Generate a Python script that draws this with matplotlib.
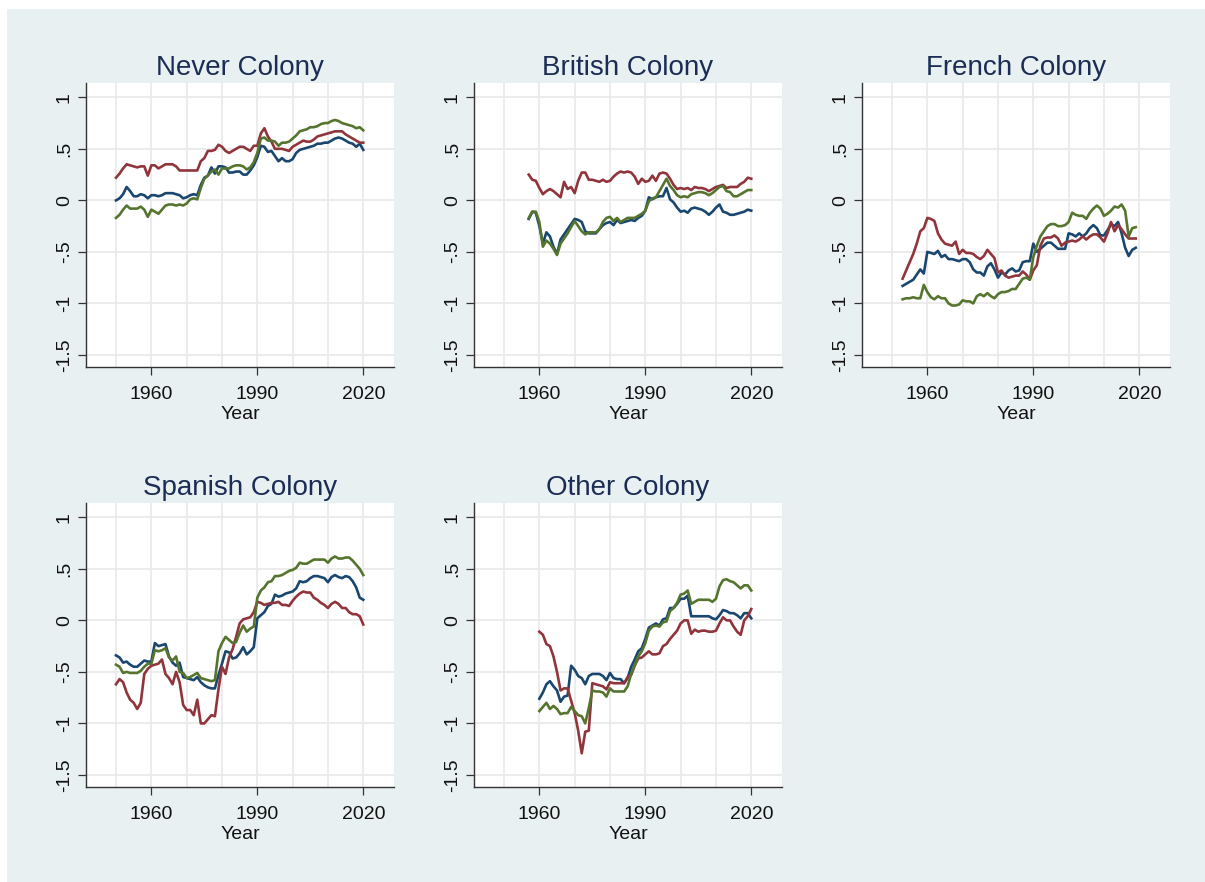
import numpy as np
import matplotlib
matplotlib.use("Agg")
import matplotlib.pyplot as plt
from matplotlib.patches import Rectangle

plt.rcParams['font.family'] = ['Liberation Sans', 'DejaVu Sans']

# ---- data: one index per colonial group, three series each ----
panel_titles = ["Never Colony", "British Colony", "French Colony",
                "Spanish Colony", "Other Colony"]
start_years = [1950, 1957, 1953, 1950, 1960]

never_blue = [0.00, 0.02, 0.06, 0.13, 0.09, 0.04, 0.04, 0.06, 0.05, 0.02,
              0.05, 0.05, 0.04, 0.05, 0.07, 0.07, 0.07, 0.06, 0.05, 0.02,
              0.03, 0.05, 0.06, 0.05, 0.15, 0.22, 0.24, 0.32, 0.26, 0.33,
              0.33, 0.32, 0.27, 0.27, 0.28, 0.28, 0.25, 0.25, 0.29, 0.34,
              0.42, 0.53, 0.52, 0.47, 0.48, 0.43, 0.38, 0.41, 0.38, 0.38,
              0.40, 0.46, 0.49, 0.50, 0.51, 0.52, 0.53, 0.55, 0.55, 0.56,
              0.56, 0.58, 0.60, 0.61, 0.60, 0.58, 0.56, 0.55, 0.52, 0.55,
              0.49]
never_red = [0.22, 0.26, 0.31, 0.35, 0.34, 0.33, 0.32, 0.33, 0.33, 0.24,
             0.34, 0.34, 0.31, 0.33, 0.35, 0.35, 0.35, 0.33, 0.29, 0.29,
             0.29, 0.29, 0.29, 0.29, 0.38, 0.41, 0.48, 0.48, 0.49, 0.54,
             0.52, 0.48, 0.46, 0.48, 0.50, 0.52, 0.52, 0.50, 0.48, 0.53,
             0.53, 0.65, 0.70, 0.62, 0.57, 0.50, 0.50, 0.50, 0.49, 0.48,
             0.52, 0.54, 0.56, 0.58, 0.57, 0.57, 0.59, 0.62, 0.63, 0.64,
             0.65, 0.66, 0.67, 0.67, 0.67, 0.64, 0.62, 0.60, 0.58, 0.56,
             0.56]
never_green = [-0.17, -0.14, -0.09, -0.05, -0.08, -0.08, -0.08, -0.06, -0.09, -0.16,
               -0.09, -0.11, -0.13, -0.09, -0.05, -0.04, -0.04, -0.05, -0.04, -0.05,
               -0.03, 0.01, 0.02, 0.01, 0.12, 0.21, 0.24, 0.28, 0.30, 0.25,
               0.31, 0.31, 0.31, 0.33, 0.34, 0.34, 0.33, 0.30, 0.32, 0.37,
               0.46, 0.60, 0.61, 0.58, 0.58, 0.57, 0.53, 0.56, 0.56, 0.57,
               0.60, 0.63, 0.67, 0.68, 0.69, 0.71, 0.71, 0.72, 0.74, 0.75,
               0.75, 0.77, 0.78, 0.77, 0.75, 0.74, 0.73, 0.72, 0.70, 0.71,
               0.68]

british_blue = [-0.18, -0.11, -0.12, -0.25, -0.42, -0.31, -0.35, -0.45, -0.52, -0.38,
                -0.33, -0.28, -0.23, -0.18, -0.19, -0.21, -0.30, -0.32, -0.32, -0.32,
                -0.28, -0.24, -0.22, -0.21, -0.24, -0.19, -0.22, -0.21, -0.20, -0.19,
                -0.20, -0.17, -0.15, -0.10, 0.03, 0.01, 0.03, 0.04, 0.04, 0.12,
                0.01, -0.02, -0.07, -0.11, -0.10, -0.12, -0.08, -0.07, -0.08, -0.09,
                -0.11, -0.14, -0.11, -0.07, -0.04, -0.11, -0.12, -0.14, -0.14, -0.13,
                -0.12, -0.11, -0.09, -0.10]
british_red = [0.25, 0.20, 0.19, 0.12, 0.06, 0.09, 0.11, 0.09, 0.06, 0.03,
               0.18, 0.11, 0.13, 0.07, 0.19, 0.27, 0.27, 0.20, 0.20, 0.19,
               0.18, 0.20, 0.18, 0.19, 0.23, 0.26, 0.28, 0.27, 0.28, 0.27,
               0.23, 0.16, 0.21, 0.18, 0.19, 0.24, 0.19, 0.26, 0.27, 0.26,
               0.21, 0.15, 0.11, 0.12, 0.11, 0.12, 0.10, 0.13, 0.12, 0.12,
               0.11, 0.09, 0.11, 0.13, 0.14, 0.15, 0.12, 0.13, 0.13, 0.13,
               0.16, 0.18, 0.22, 0.21]
british_green = [-0.17, -0.11, -0.11, -0.21, -0.45, -0.39, -0.42, -0.47, -0.53, -0.42,
                 -0.37, -0.32, -0.26, -0.20, -0.25, -0.30, -0.33, -0.31, -0.31, -0.31,
                 -0.28, -0.21, -0.17, -0.16, -0.20, -0.17, -0.21, -0.19, -0.17, -0.17,
                 -0.17, -0.15, -0.13, -0.10, -0.01, 0.02, 0.03, 0.09, 0.15, 0.21,
                 0.14, 0.10, 0.05, 0.03, 0.04, 0.03, 0.06, 0.07, 0.08, 0.08,
                 0.07, 0.05, 0.07, 0.10, 0.13, 0.14, 0.09, 0.08, 0.04, 0.04,
                 0.06, 0.08, 0.10, 0.10]

french_blue = [-0.83, -0.81, -0.79, -0.77, -0.72, -0.67, -0.71, -0.50, -0.51, -0.52,
               -0.49, -0.55, -0.53, -0.57, -0.57, -0.58, -0.59, -0.57, -0.57, -0.60,
               -0.67, -0.70, -0.70, -0.73, -0.64, -0.61, -0.67, -0.75, -0.70, -0.72,
               -0.68, -0.66, -0.69, -0.68, -0.60, -0.59, -0.59, -0.42, -0.50, -0.47,
               -0.44, -0.41, -0.41, -0.44, -0.47, -0.47, -0.47, -0.32, -0.33, -0.35,
               -0.32, -0.35, -0.32, -0.27, -0.24, -0.27, -0.34, -0.34, -0.29, -0.23,
               -0.25, -0.21, -0.32, -0.46, -0.54, -0.48, -0.46]
french_red = [-0.76, -0.68, -0.60, -0.52, -0.42, -0.30, -0.27, -0.17, -0.18, -0.20,
              -0.32, -0.38, -0.42, -0.43, -0.44, -0.40, -0.52, -0.48, -0.51, -0.51,
              -0.52, -0.55, -0.57, -0.54, -0.48, -0.52, -0.56, -0.70, -0.68, -0.73,
              -0.75, -0.74, -0.73, -0.73, -0.69, -0.72, -0.77, -0.68, -0.63, -0.44,
              -0.37, -0.36, -0.36, -0.34, -0.37, -0.44, -0.41, -0.40, -0.39, -0.40,
              -0.38, -0.35, -0.38, -0.35, -0.33, -0.33, -0.36, -0.40, -0.32, -0.21,
              -0.30, -0.24, -0.28, -0.33, -0.37, -0.37, -0.37]
french_green = [-0.96, -0.95, -0.95, -0.94, -0.95, -0.95, -0.82, -0.89, -0.94, -0.96,
                -0.93, -0.95, -0.95, -1.00, -1.02, -1.02, -1.01, -0.97, -0.98, -0.98,
                -1.00, -0.93, -0.91, -0.93, -0.90, -0.93, -0.95, -0.91, -0.89, -0.89,
                -0.88, -0.86, -0.86, -0.81, -0.76, -0.75, -0.77, -0.55, -0.44, -0.35,
                -0.30, -0.25, -0.23, -0.23, -0.25, -0.25, -0.24, -0.21, -0.12, -0.14,
                -0.15, -0.15, -0.18, -0.12, -0.08, -0.05, -0.08, -0.15, -0.13, -0.10,
                -0.06, -0.07, -0.04, -0.10, -0.35, -0.27, -0.26]

spanish_blue = [-0.34, -0.36, -0.41, -0.40, -0.43, -0.45, -0.45, -0.42, -0.39, -0.40,
                -0.40, -0.22, -0.25, -0.24, -0.23, -0.35, -0.41, -0.44, -0.41, -0.55,
                -0.56, -0.57, -0.58, -0.55, -0.60, -0.63, -0.65, -0.66, -0.66, -0.53,
                -0.42, -0.30, -0.31, -0.37, -0.36, -0.32, -0.26, -0.33, -0.30, -0.26,
                0.02, 0.05, 0.08, 0.14, 0.16, 0.25, 0.23, 0.24, 0.26, 0.27,
                0.28, 0.31, 0.38, 0.37, 0.38, 0.41, 0.43, 0.43, 0.42, 0.41,
                0.37, 0.42, 0.44, 0.42, 0.41, 0.43, 0.42, 0.38, 0.32, 0.22,
                0.20]
spanish_red = [-0.62, -0.57, -0.60, -0.70, -0.77, -0.80, -0.86, -0.80, -0.52, -0.47,
               -0.44, -0.43, -0.42, -0.38, -0.52, -0.56, -0.62, -0.50, -0.60, -0.82,
               -0.87, -0.87, -0.92, -0.77, -1.00, -1.00, -0.96, -0.92, -0.93, -0.67,
               -0.45, -0.52, -0.36, -0.28, -0.16, -0.03, 0.01, 0.02, 0.03, 0.08,
               0.18, 0.17, 0.15, 0.16, 0.17, 0.17, 0.18, 0.15, 0.15, 0.14,
               0.19, 0.23, 0.26, 0.28, 0.27, 0.27, 0.22, 0.20, 0.17, 0.15,
               0.12, 0.16, 0.18, 0.16, 0.12, 0.12, 0.08, 0.06, 0.06, 0.04,
               -0.04]
spanish_green = [-0.43, -0.45, -0.51, -0.50, -0.51, -0.51, -0.51, -0.49, -0.45, -0.42,
                 -0.42, -0.29, -0.30, -0.29, -0.27, -0.36, -0.39, -0.35, -0.50, -0.51,
                 -0.56, -0.55, -0.53, -0.51, -0.56, -0.57, -0.58, -0.59, -0.58, -0.30,
                 -0.22, -0.16, -0.19, -0.22, -0.21, -0.12, -0.05, -0.11, -0.08, -0.06,
                 0.22, 0.29, 0.32, 0.37, 0.38, 0.43, 0.43, 0.44, 0.46, 0.48,
                 0.49, 0.51, 0.56, 0.55, 0.55, 0.57, 0.59, 0.59, 0.59, 0.59,
                 0.56, 0.60, 0.62, 0.60, 0.60, 0.61, 0.61, 0.58, 0.54, 0.50,
                 0.44]

other_blue = [-0.76, -0.70, -0.62, -0.59, -0.64, -0.68, -0.79, -0.74, -0.73, -0.44,
              -0.48, -0.54, -0.56, -0.62, -0.54, -0.52, -0.52, -0.52, -0.54, -0.58,
              -0.51, -0.56, -0.57, -0.57, -0.61, -0.56, -0.45, -0.38, -0.30, -0.27,
              -0.18, -0.07, -0.05, -0.03, -0.05, 0.01, 0.02, 0.12, 0.12, 0.16,
              0.21, 0.21, 0.24, 0.04, 0.04, 0.04, 0.04, 0.04, 0.04, 0.02,
              0.01, 0.05, 0.10, 0.09, 0.07, 0.07, 0.05, 0.02, 0.07, 0.07,
              0.02]
other_red = [-0.11, -0.14, -0.23, -0.25, -0.35, -0.50, -0.68, -0.66, -0.66, -0.78,
             -0.90, -1.07, -1.29, -1.08, -1.07, -0.61, -0.62, -0.63, -0.64, -0.67,
             -0.60, -0.61, -0.61, -0.61, -0.61, -0.55, -0.53, -0.44, -0.37, -0.36,
             -0.33, -0.30, -0.33, -0.33, -0.32, -0.25, -0.23, -0.18, -0.14, -0.10,
             -0.03, 0.00, 0.00, -0.13, -0.09, -0.11, -0.10, -0.10, -0.11, -0.11,
             -0.10, -0.03, 0.03, 0.00, 0.00, -0.06, -0.11, -0.14, 0.00, 0.04,
             0.11]
other_green = [-0.88, -0.84, -0.80, -0.86, -0.83, -0.86, -0.91, -0.90, -0.90, -0.84,
               -0.88, -0.92, -0.93, -1.00, -0.85, -0.68, -0.69, -0.69, -0.70, -0.74,
               -0.66, -0.69, -0.69, -0.69, -0.69, -0.64, -0.52, -0.43, -0.35, -0.30,
               -0.22, -0.10, -0.06, -0.05, -0.06, -0.02, -0.01, 0.09, 0.12, 0.17,
               0.25, 0.26, 0.29, 0.16, 0.18, 0.20, 0.20, 0.20, 0.20, 0.18,
               0.21, 0.33, 0.39, 0.40, 0.38, 0.37, 0.34, 0.31, 0.34, 0.34,
               0.29]

panel_series = [
    (never_blue, never_red, never_green),
    (british_blue, british_red, british_green),
    (french_blue, french_red, french_green),
    (spanish_blue, spanish_red, spanish_green),
    (other_blue, other_red, other_green),
]

ytick_vals = [1, 0.5, 0, -0.5, -1, -1.5]
ytick_labels = ["1", ".5", "0", "-.5", "-1", "-1.5"]
xtick_vals = [1960, 1990, 2020]

# stata s2color style
navy, maroon, green = "#1a476f", "#90353b", "#55752f"
bg = "#e8f0f2"
title_col = "#1c2d55"

W, H = 1205, 882
fig = plt.figure(figsize=(W / 100, H / 100), dpi=100, facecolor="white")
fig.patches.append(Rectangle((7 / W, 0), 1 - 7 / W, 1 - 9 / H,
                             transform=fig.transFigure, facecolor=bg,
                             edgecolor="none", zorder=-10))

col_left = [86, 474, 862]
row_bottom = [367, 787]
ax_w, ax_h = 308, 284

for k, (title, yr0, series) in enumerate(zip(panel_titles, start_years, panel_series)):
    r, c = divmod(k, 3)
    ax = fig.add_axes([col_left[c] / W, 1 - row_bottom[r] / H, ax_w / W, ax_h / H])
    ax.set_facecolor("white")
    years = np.arange(yr0, yr0 + len(series[0]))
    for vals, col in zip(series, (navy, maroon, green)):
        ax.plot(years, vals, color=col, lw=1.9, solid_joinstyle="round", zorder=3)

    ax.set_xlim(1941.5, 2028.7)
    ax.set_ylim(-1.617, 1.139)
    for gx in range(1950, 2021, 10):
        ax.axvline(gx, color="#eaeaea", lw=1.3, zorder=1)
    for gy in ytick_vals:
        ax.axhline(gy, color="#eaeaea", lw=1.3, zorder=1)

    ax.set_xticks(xtick_vals)
    ax.set_yticks(ytick_vals)
    ax.set_yticklabels(ytick_labels, rotation=90, va="center")
    ax.tick_params(axis="both", length=5.5, width=0.9, color="#333333",
                   labelsize=14, labelcolor="#111111")
    ax.tick_params(axis="x", pad=8)
    ax.tick_params(axis="y", pad=4)
    for side in ("top", "right"):
        ax.spines[side].set_visible(False)
    for side in ("left", "bottom"):
        ax.spines[side].set_color("#333333")
        ax.spines[side].set_linewidth(1.0)
    ax.set_xlabel("Year", fontsize=14, color="#111111", labelpad=2)
    ax.set_title(title, fontsize=20, color=title_col, pad=6)

fig.savefig("out.png", dpi=100)
